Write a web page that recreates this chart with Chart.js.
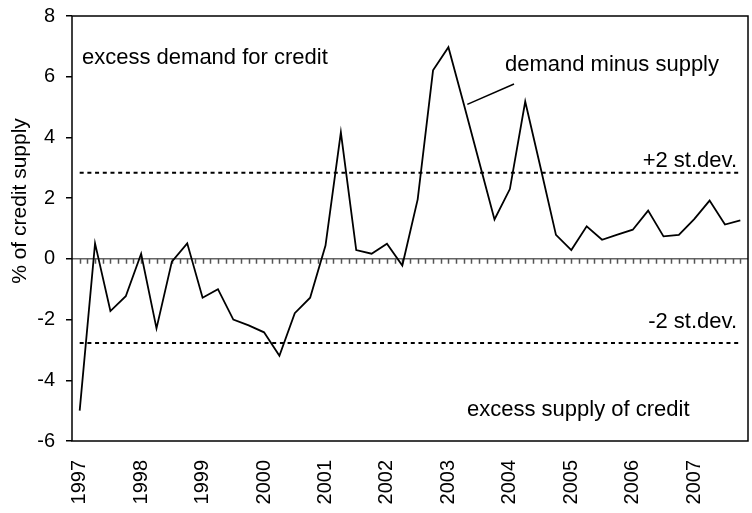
<!DOCTYPE html>
<html>
<head>
<meta charset="utf-8">
<script src="https://cdn.jsdelivr.net/npm/chart.js@4/dist/chart.umd.min.js"></script>
<style>
  html, body { margin: 0; padding: 0; background: #fff; }
  #wrap { width: 752px; height: 513px; }
</style>
</head>
<body>
<div id="wrap"><canvas id="credit" width="752" height="513"></canvas></div>
<script>
// quarters 1997Q1 .. 2007Q4
const years = ['1997', '1998', '1999', '2000', '2001', '2002', '2003', '2004', '2005', '2006', '2007'];
const quarters = [];
years.forEach(y => { for (let q = 1; q <= 4; q++) quarters.push(y + 'Q' + q); });

// demand minus supply, % of credit supply
const demandMinusSupply = [
  -5.0, 0.51, -1.72, -1.23,
  0.17, -2.29, -0.09, 0.51,
  -1.28, -1.0, -2.0, -2.19,
  -2.42, -3.19, -1.79, -1.28,
  0.44, 4.17, 0.29, 0.17,
  0.5, -0.22, 1.96, 6.21,
  6.97, 5.1, 3.2, 1.3,
  2.3, 5.18, 3.0, 0.79,
  0.29, 1.07, 0.63, 0.8,
  0.96, 1.59, 0.74, 0.79,
  1.31, 1.92, 1.13, 1.27
];

// +/- 2 standard deviation bands
const upperBand = 2.84;
const lowerBand = -2.77;

const yTicks = [-6, -4, -2, 0, 2, 4, 6, 8];

const FONT = '"Liberation Sans", Arial, sans-serif';

// no automatic label padding, the plot box is fixed
function noPad(scale) {
  scale.paddingLeft = 0;
  scale.paddingRight = 0;
  scale.paddingTop = 0;
  scale.paddingBottom = 0;
}

// extra drawing: frame, minor ticks on the zero line, texts, pointer line
const decorations = {
  id: 'decorations',
  beforeDatasetsDraw(chart) {
    const { ctx, chartArea, scales } = chart;
    const x = scales.x, y = scales.y;
    const y0 = y.getPixelForValue(0);
    ctx.save();
    ctx.strokeStyle = '#555';
    ctx.lineWidth = 1.5;
    ctx.beginPath();
    for (let i = 0; i < quarters.length; i++) {
      [i, i + 0.5].forEach(v => {
        const px = Math.round(x.getPixelForValue(v)) + 0.5;
        if (px > chartArea.left + 2 && px < chartArea.right - 2) {
          ctx.moveTo(px, y0);
          ctx.lineTo(px, y0 + 5);
        }
      });
    }
    ctx.stroke();
    ctx.restore();
  },
  afterDraw(chart) {
    const { ctx, chartArea, scales } = chart;
    const x = scales.x, y = scales.y;
    ctx.save();
    // frame
    ctx.strokeStyle = '#000';
    ctx.lineWidth = 1.5;
    ctx.strokeRect(chartArea.left, chartArea.top, chartArea.right - chartArea.left, chartArea.bottom - chartArea.top);

    // texts
    ctx.fillStyle = '#000';
    ctx.font = '22px ' + FONT;
    ctx.textBaseline = 'alphabetic';
    ctx.textAlign = 'left';
    ctx.fillText('excess demand for credit', 82, 64);
    ctx.fillText('demand minus supply', 505, 71);
    ctx.fillText('excess supply of credit', 467, 416);
    ctx.textAlign = 'right';
    ctx.fillText('+2 st.dev.', 737, 167);
    ctx.fillText('-2 st.dev.', 737, 328);

    // pointer from label to the line
    ctx.lineWidth = 1.5;
    ctx.beginPath();
    ctx.moveTo(x.getPixelForValue(25.23), y.getPixelForValue(5.09));
    ctx.lineTo(x.getPixelForValue(28.27), y.getPixelForValue(5.76));
    ctx.stroke();

    // y axis title
    ctx.font = '21px ' + FONT;
    ctx.textAlign = 'center';
    ctx.textBaseline = 'middle';
    ctx.translate(20, 201);
    ctx.rotate(-Math.PI / 2);
    ctx.fillText('% of credit supply', 0, 0);
    ctx.restore();
  }
};

const ctx = document.getElementById('credit').getContext('2d');
new Chart(ctx, {
  type: 'line',
  data: {
    labels: quarters,
    datasets: [
      {
        label: 'demand minus supply',
        data: demandMinusSupply,
        borderColor: '#000',
        borderWidth: 1.8,
        pointRadius: 0,
        tension: 0,
        order: 0
      },
      {
        label: '+2 st.dev.',
        data: quarters.map(() => upperBand),
        borderColor: '#000',
        borderWidth: 2,
        borderDash: [4, 3.7],
        pointRadius: 0,
        order: 1
      },
      {
        label: '-2 st.dev.',
        data: quarters.map(() => lowerBand),
        borderColor: '#000',
        borderWidth: 2,
        borderDash: [4, 3.7],
        pointRadius: 0,
        order: 1
      }
    ]
  },
  options: {
    responsive: false,
    animation: false,
    devicePixelRatio: 1,
    layout: { padding: { top: 16, right: 4, left: 0, bottom: 0 } },
    plugins: {
      legend: { display: false },
      tooltip: { enabled: false }
    },
    scales: {
      x: {
        type: 'category',
        offset: true,
        border: { display: false },
        grid: { display: false },
        ticks: {
          autoSkip: false,
          minRotation: 90,
          maxRotation: 90,
          padding: 11,
          color: '#000',
          font: { family: FONT, size: 20 },
          callback: function (value, index) {
            const lab = quarters[index];
            return lab.endsWith('Q1') ? lab.slice(0, 4) : '';
          }
        },
        afterFit(scale) { scale.height = 72; noPad(scale); }
      },
      y: {
        min: -6,
        max: 8,
        border: { display: false },
        afterBuildTicks(scale) { scale.ticks = yTicks.map(v => ({ value: v })); },
        grid: {
          color: c => (c.tick && c.tick.value === 0 ? '#666' : 'rgba(0,0,0,0)'),
          tickColor: '#000',
          tickLength: 6,
          lineWidth: 1.5
        },
        ticks: {
          padding: 11,
          color: '#000',
          font: { family: FONT, size: 20 }
        },
        afterFit(scale) { scale.width = 72; noPad(scale); }
      }
    }
  },
  plugins: [decorations]
});
</script>
</body>
</html>
